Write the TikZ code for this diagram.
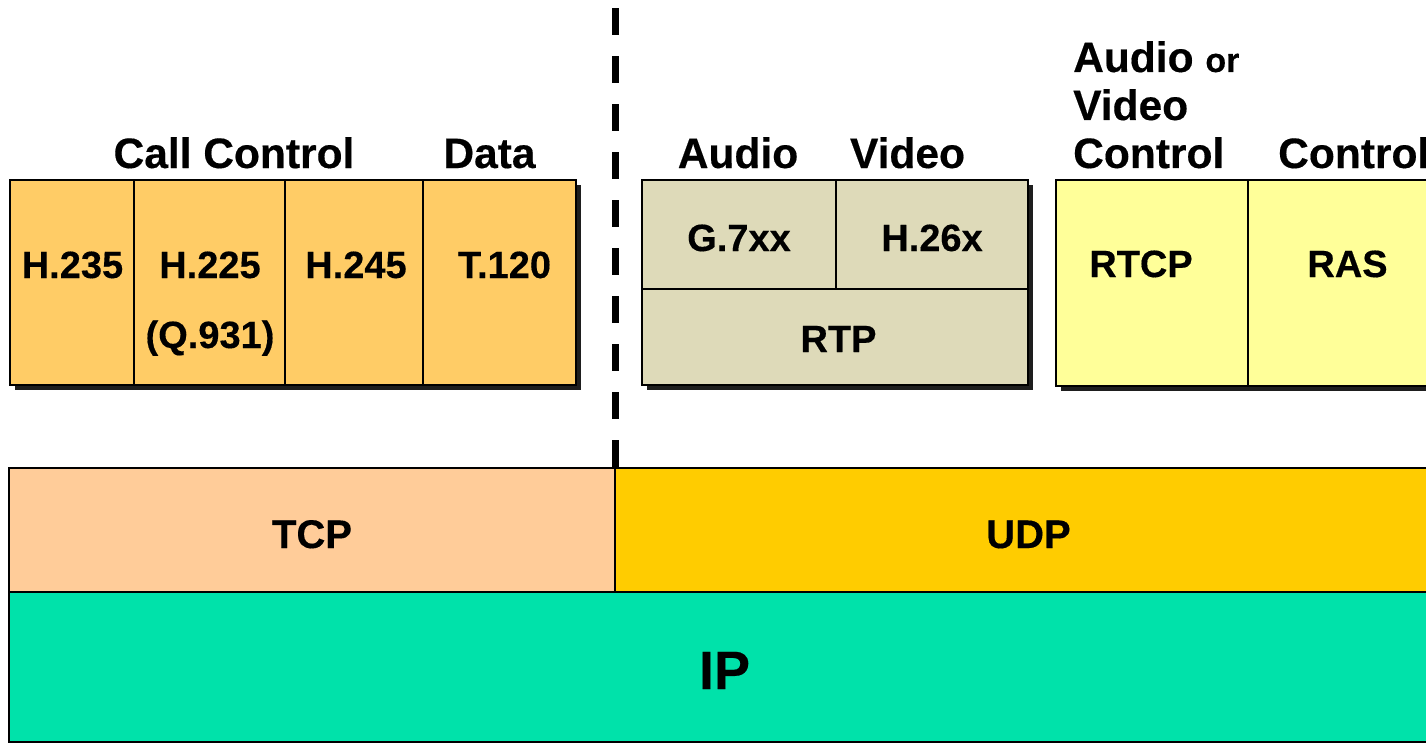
\documentclass[tikz,border=0pt]{standalone}
\usepackage{fontspec}
\setmainfont{Liberation Sans}[BoldFeatures={FakeBold=0.35}]
\definecolor{ctrlorange}{HTML}{FFCC66}
\definecolor{mediakhaki}{HTML}{DEDAB9}
\definecolor{ctrlyellow}{HTML}{FFFF99}
\definecolor{tcppeach}{HTML}{FFCC99}
\definecolor{udpgold}{HTML}{FFCC00}
\definecolor{ipteal}{HTML}{00E2AA}
\definecolor{shadowgray}{HTML}{1E1E1E}
\begin{document}
\begin{tikzpicture}[x=1pt,y=-1pt,
  cellbox/.style={draw=black, line width=2pt, inner sep=0pt, outer sep=0pt, anchor=north west},
  shadowbox/.style={fill=shadowgray},
  cellfont/.style={inner sep=0pt, anchor=base, font=\fontsize{38}{44}\selectfont\bfseries},
  headfont/.style={inner sep=0pt, anchor=base, font=\fontsize{42.5}{48}\selectfont\bfseries},
  transfont/.style={inner sep=0pt, anchor=base, font=\fontsize{40}{46}\selectfont\bfseries},
  divider/.style={line width=7pt, dash pattern=on 27pt off 21pt}
]
\useasboundingbox (0,0) rectangle (1426,744);
\clip (0,0) rectangle (1426,744);

% drop shadows of the three upper groups
\fill[shadowbox] (15,185) rectangle (581,390);
\fill[shadowbox] (647,185) rectangle (1033,390);
\fill[shadowbox] (1061,185) rectangle (1460,391);

% call control and data group
\node[cellbox, fill=ctrlorange, minimum width=124pt, minimum height=205pt] (h235) at (10,180) {};
\node[cellbox, fill=ctrlorange, minimum width=151pt, minimum height=205pt] (h225) at (134,180) {};
\node[cellbox, fill=ctrlorange, minimum width=138pt, minimum height=205pt] (h245) at (285,180) {};
\node[cellbox, fill=ctrlorange, minimum width=153pt, minimum height=205pt] (t120) at (423,180) {};

% media group
\node[cellbox, fill=mediakhaki, minimum width=194pt, minimum height=109pt] (g7xx) at (642,180) {};
\node[cellbox, fill=mediakhaki, minimum width=192pt, minimum height=109pt] (h26x) at (836,180) {};
\node[cellbox, fill=mediakhaki, minimum width=386pt, minimum height=96pt] (rtp) at (642,289) {};

% control group
\node[cellbox, fill=ctrlyellow, minimum width=192pt, minimum height=206pt] (rtcp) at (1056,180) {};
\node[cellbox, fill=ctrlyellow, minimum width=210pt, minimum height=206pt] (ras) at (1248,180) {};

% transport and network layers
\node[cellbox, fill=tcppeach, minimum width=606pt, minimum height=124pt] (tcp) at (9,468) {};
\node[cellbox, fill=udpgold, minimum width=850pt, minimum height=124pt] (udp) at (615,468) {};
\node[cellbox, fill=ipteal, minimum width=1456pt, minimum height=150pt] (ip) at (9,592) {};

% separator between TCP and UDP based stacks
\coordinate (divtop) at (615.5,8);
\coordinate (divbot) at (615.5,468);
\draw[divider] (divtop) -- (divbot);

% headings
\node[headfont] (hcall) at (234,168) {Call Control};
\node[headfont] (hdata) at (489.5,168) {Data};
\node[headfont] (haudio) at (738,168) {Audio};
\node[headfont] (hvideo) at (907.5,168) {Video};
\node[inner sep=0pt, anchor=north west, align=left,
      font=\fontsize{42.5}{48}\selectfont\bfseries] (hav) at (1073,41)
  {Audio {\fontsize{34}{48}\selectfont or}\\Video\\Control};
\node[headfont, anchor=base west] (hctrl) at (1278,168) {Control};

% cell labels
\node[cellfont] (lh235) at (72.5,278) {H.235};
\node[cellfont] (lh225) at (210,278) {H.225};
\node[cellfont] (lq931) at (210,348) {(Q.931)};
\node[cellfont] (lh245) at (356,278) {H.245};
\node[cellfont] (lt120) at (504.5,278) {T.120};
\node[cellfont] (lg7xx) at (739,251) {G.7xx};
\node[cellfont] (lh26x) at (932,251) {H.26x};
\node[cellfont] (lrtp) at (838.5,352) {RTP};
\node[cellfont] (lrtcp) at (1141,277) {RTCP};
\node[cellfont] (lras) at (1347.5,277) {RAS};
\node[transfont] (ltcp) at (312,548) {TCP};
\node[transfont] (ludp) at (1028.5,548) {UDP};
\node[inner sep=0pt, anchor=base, font=\fontsize{54}{60}\selectfont\bfseries] (lip) at (724.5,689) {IP};
\end{tikzpicture}
\end{document}
